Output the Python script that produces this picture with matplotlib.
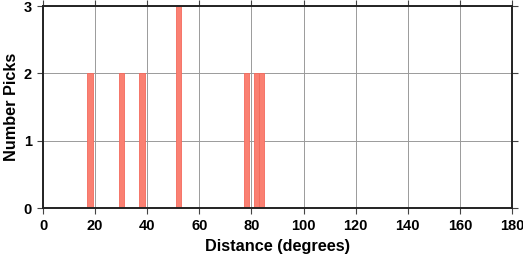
import matplotlib
matplotlib.use("Agg")
import matplotlib.pyplot as plt

# histogram of pick distances, 2-degree bins (left edges)
bin_left = [17, 29, 37, 51, 77, 81, 83]
picks = [2, 2, 2, 3, 2, 2, 2]
bin_width = 2

plt.rcParams["font.family"] = ["Liberation Sans", "DejaVu Sans"]
plt.rcParams["font.weight"] = "bold"

fig = plt.figure(figsize=(5.23, 2.58), dpi=100)
ax = fig.add_axes([43 / 523, 50 / 258, 469 / 523, 202 / 258])

ax.bar(bin_left, picks, width=bin_width, align="edge",
       color="#fa8072", edgecolor="#f46a5c", lw=0.6, zorder=3)

ax.set_xlim(0, 180)
ax.set_ylim(0, 3)
ax.set_xticks(range(0, 181, 20))
ax.set_yticks([0, 1, 2, 3])
ax.grid(True, color="#9a9a9a", lw=0.7, zorder=0)

for s in ax.spines.values():
    s.set_linewidth(1.4)
    s.set_color("#222222")
    s.set_zorder(4)

ax.tick_params(direction="out", length=4, width=0.8, color="#444444",
               labelsize=10.5, pad=4)
ax.tick_params(top=True, right=True, labeltop=False, labelright=False)

ax.set_xlabel("Distance (degrees)", fontsize=11.7, fontweight="bold")
ax.set_ylabel("Number Picks", fontsize=11.7, fontweight="bold")
ax.xaxis.set_label_coords(0.5, -0.155)
ax.yaxis.set_label_coords(-0.052, 0.5)

fig.savefig("out.png", dpi=100)
